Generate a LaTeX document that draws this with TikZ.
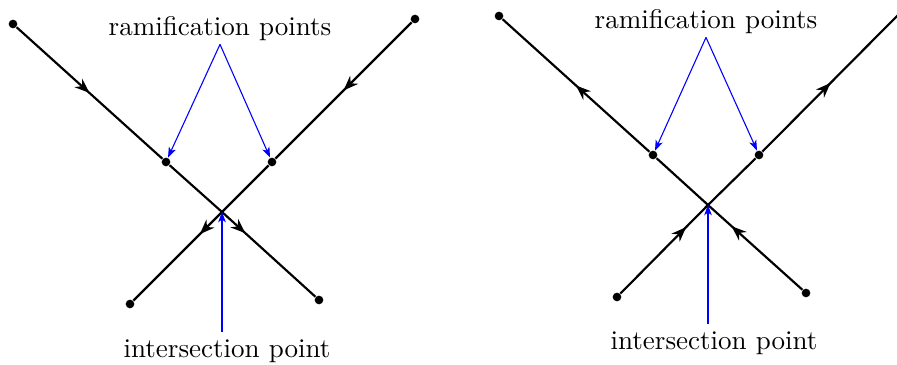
\documentclass[tikz,border=0pt]{standalone}
\usepackage{amsmath}
\usepackage{amssymb}
\usetikzlibrary{arrows.meta,decorations.markings}
\tikzset{
  endpt/.style={circle,fill=black,inner sep=0pt,minimum size=3.2pt},
  lbl/.style={inner sep=1pt},
  midarrow/.style={postaction={decorate},
    decoration={markings,mark=at position #1 with {\arrow{Stealth[length=5.5pt,width=4.2pt,inset=1.8pt]}}}},
  bluearrow/.style={-{Stealth[length=3.8pt,width=2.8pt,inset=1pt]},blue}
}

\begin{document}
\begin{tikzpicture}[x=0.013cm,y=-0.013cm]
    \useasboundingbox (0,0) rectangle (897,365);

    % left picture
    \node[endpt] (a1) at (13,24) {};
    \node[endpt] (a2) at (415,19) {};
    \node[endpt] (a3) at (166,162) {};
    \node[endpt] (a4) at (272,162) {};
    \coordinate (a5) at (222,212);
    \node[endpt] (a6) at (130,304) {};
    \node[endpt] (a7) at (319,300) {};
    \node[lbl] (ra) at (220,29) {ramification points};
    \node[lbl] (ia) at (227,351) {intersection point};

    \path[black, thick]
    (a1) edge [midarrow=0.5] (a3)
    (a2) edge [midarrow=0.5] (a4)
    (a3) edge (a5)
    (a4) edge (a5)
    (a5) edge [midarrow=0.25] (a6)
    (a5) edge [midarrow=0.25] (a7);

    \path[bluearrow]
    (ra.south) edge (a3)
    (ra.south) edge (a4)
    (a5 |- ia.north) edge [shorten <=1.5pt] (a5);

    % right picture
    \node[endpt] (b1) at (499,16) {};
    \node[endpt] (b2) at (902,11) {};
    \node[endpt] (b3) at (653,155) {};
    \node[endpt] (b4) at (759,155) {};
    \coordinate (b5) at (708,205);
    \node[endpt] (b6) at (617,297) {};
    \node[endpt] (b7) at (806,293) {};
    \node[lbl] (rb) at (706,22) {ramification points};
    \node[lbl] (ib) at (714,343) {intersection point};

    \path[black, thick]
    (b3) edge [midarrow=0.5] (b1)
    (b4) edge [midarrow=0.5] (b2)
    (b3) edge (b5)
    (b4) edge (b5)
    (b6) edge [midarrow=0.75] (b5)
    (b7) edge [midarrow=0.75] (b5);

    \path[bluearrow]
    (rb.south) edge (b3)
    (rb.south) edge (b4)
    (b5 |- ib.north) edge [shorten <=1.5pt] (b5);
\end{tikzpicture}
\end{document}
